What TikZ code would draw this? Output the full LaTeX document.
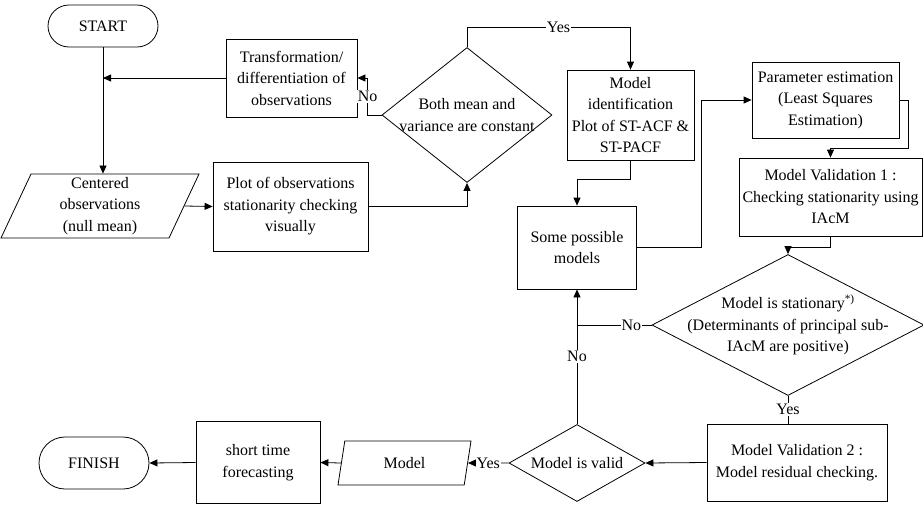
\documentclass[tikz,border=0pt]{standalone}
\usepackage{fontspec}
\setmainfont{Liberation Serif}
\usetikzlibrary{shapes.geometric, shapes.misc, arrows.meta}

\begin{document}
\begin{tikzpicture}
                [x=1pt, y=-1pt, line width=0.8pt,
                every node/.style={font=\fontsize{16}{21.5}\selectfont, align=center, inner sep=2pt},
                every label/.style={inner sep=0pt},
                terminal/.style={draw, rounded rectangle, minimum width=114pt},
                process/.style={draw, rectangle},
                data/.style={draw, trapezium, trapezium stretches body},
                decision/.style={draw, diamond, inner sep=0pt},
                flow/.style={-{Triangle[length=8pt, width=7pt]}},
                answer/.style={fill=white, inner sep=1pt}]
                \useasboundingbox (0,0) rectangle (923,504);
                \node[terminal, minimum height=42pt] (start) at (103,26) {START};
                \node[process, minimum width=131pt, minimum height=78pt] (transf) at (291.5,78)
                {Transformation/\\differentiation of\\observations};
                \node[data, trapezium left angle=64, trapezium right angle=116,
                minimum width=198pt, minimum height=64pt] (centered) at (100,206)
                {Centered\\observations\\(null mean)};
                \node[process, minimum width=155pt, minimum height=89pt] (plot) at (290.5,206.5)
                {Plot of observations\\stationarity checking\\visually};
                \node[decision, minimum width=170pt, minimum height=135pt,
                label={center:{Both mean and\\variance are constant}}] (meanvar) at (467,115) {};
                \node[process, minimum width=127pt, minimum height=90pt] (ident) at (630.5,115)
                {Model\\identification\\Plot of ST-ACF \&\\ST-PACF};
                \node[process, minimum width=119pt, minimum height=83pt] (models) at (577,247.5)
                {Some possible\\models};
                \node[process, minimum width=147pt, minimum height=76pt] (estim) at (825.5,100)
                {Parameter estimation\\(Least Squares\\Estimation)};
                \node[process, minimum width=183pt, minimum height=78pt] (valid1) at (830.5,197)
                {Model Validation 1 :\\Checking stationarity using\\IAcM};
                \node[decision, minimum width=272pt, minimum height=141pt,
                label={center:{Model is stationary\textsuperscript{*)}\\(Determinants of principal sub-\\IAcM are positive)}}]
                (stat) at (788,325) {};
                \node[process, minimum width=180pt, minimum height=77pt] (valid2) at (797,462.5)
                {Model Validation 2 :\\Model residual checking.};
                \node[decision, minimum width=136pt, minimum height=77pt,
                label={center:{Model is valid}}] (isvalid) at (577,463) {};
                \node[data, trapezium left angle=66, trapezium right angle=114,
                minimum width=133pt, minimum height=44pt] (model) at (404.5,463) {Model};
                \node[process, minimum width=124pt, minimum height=82pt] (forecast) at (258,462.5)
                {short time\\forecasting};
                \node[terminal, minimum height=52pt] (finish) at (94,463) {FINISH};
                \draw[flow] (start.south) -- (start.south |- centered.north);
                \draw[flow] (transf.west) -- (start.south |- transf.west);
                \draw[flow] (centered.east) -- (plot.west);
                \draw[flow] (plot.east) -| (meanvar.south);
                \draw[flow] (meanvar.west) -- ++(-14,0) |- node[answer, pos=0.25] {No} (transf.east);
                \draw[flow] (meanvar.north) -- ++(0,-20) -| node[answer, pos=0.28] {Yes} (ident.north);
                \draw[flow] (ident.south) -- ++(0,19) -| (models.north);
                \draw[flow] (models.east) -- ++(64,0) |- (estim.west);
                \draw[flow] (estim.east) -- ++(9,0) -- ++(0,48) -| (valid1.north);
                \draw[flow] (valid1.south) -- ++(0,11) -| (stat.north);
                \draw (stat.west) -- node[answer, pos=0.27] {No} (models.south |- stat.west);
                \draw[flow] (isvalid.north) -- node[answer] {No} (models.south);
                \draw (stat.south) -- node[answer] {Yes} (stat.south |- valid2.north);
                \draw[flow] (valid2.west) -- (isvalid.east);
                \draw[flow] (isvalid.west) -- node[answer] {Yes} (model.east);
                \draw[flow] (model.west) -- (forecast.east);
                \draw[flow] (forecast.west) -- (finish.east);
\end{tikzpicture}
\end{document}
